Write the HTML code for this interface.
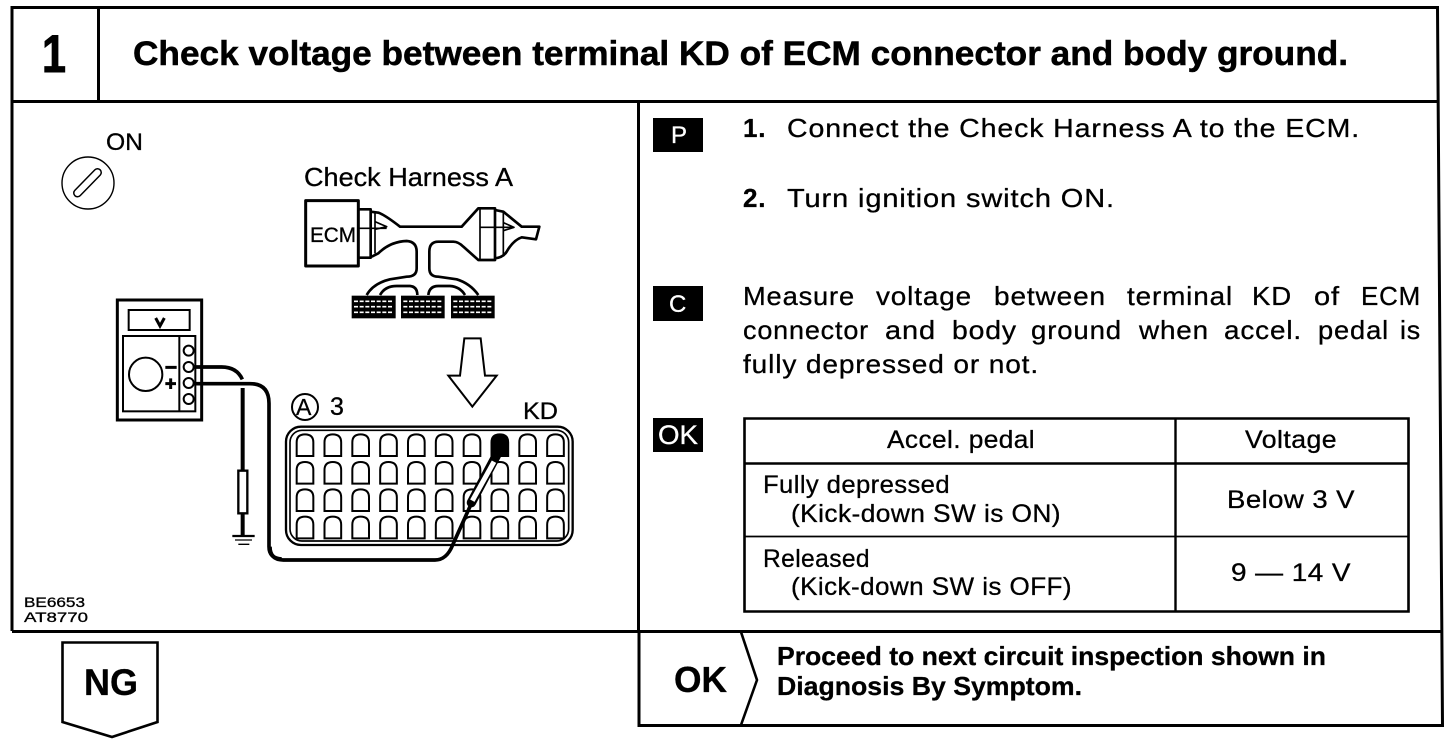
<!DOCTYPE html>
<html><head><meta charset="utf-8"><style>
html,body{margin:0;padding:0;background:#fff}
svg{display:block}
text{font-family:"Liberation Sans",sans-serif;fill:#000;stroke:#000;stroke-width:.3px}
.b{font-size:26px;letter-spacing:.8px}
.t{font-size:25px;letter-spacing:.4px}
.bb{font-weight:bold}
.w{fill:#fff;stroke:#fff}
</style></head><body>
<svg width="1456" height="744" viewBox="0 0 1456 744" xmlns="http://www.w3.org/2000/svg" xmlns:xlink="http://www.w3.org/1999/xlink">
<defs>
<path id="c" d="M0 65V24Q0 0 25 0T50 24V65Z" fill="#fff" stroke="#000" stroke-width="6"/>
<g id="r"><use xlink:href="#c" x="0"/><use xlink:href="#c" x="83.5"/><use xlink:href="#c" x="167"/><use xlink:href="#c" x="250.5"/><use xlink:href="#c" x="334"/><use xlink:href="#c" x="417.5"/><use xlink:href="#c" x="501"/><use xlink:href="#c" x="584.5"/><use xlink:href="#c" x="668"/><use xlink:href="#c" x="751.5"/></g>
</defs>
<rect width="1456" height="744" fill="#fff"/>
<!-- frame -->
<g fill="none" stroke="#000" stroke-width="3">
<path d="M12 631V7.5H1437.5L1442.5 725.5H639V631"/>
<path d="M12 101.5H1438M98.5 7V101M638.5 101V631M12 631.5H1441.5"/>
<path d="M744.5 418.5H1408.5V611.5H744.5Z" stroke-width="2.6"/>
<path d="M745 463.5H1408M1175.5 418V611" stroke-width="2.4"/>
<path d="M745 536.5H1408" stroke-width="1.8"/>
<path d="M741 632L757 680L741 725" stroke-linejoin="round" stroke-width="2.6"/>
<path d="M62.5 642.5H157.5V722L112 737L62.5 722Z" stroke-width="2.6"/>
</g>
<text x="42" y="72" font-size="53" class="bb" textLength="24" lengthAdjust="spacingAndGlyphs" style="stroke-width:1px">1</text>
<text x="133" y="65" font-size="34" class="bb" textLength="1215" lengthAdjust="spacingAndGlyphs" style="stroke-width:.5px">Check voltage between terminal KD of ECM connector and body ground.</text>

<!-- right side -->
<rect x="653" y="118" width="50" height="34"/><rect x="653" y="286" width="50" height="35"/><rect x="653" y="418" width="50" height="34"/>
<text x="671" y="143" font-size="24" class="w">P</text>
<text x="669" y="312" font-size="24" class="w">C</text>
<text x="658" y="444" font-size="27" class="w" textLength="40" lengthAdjust="spacingAndGlyphs">OK</text>

<text class="b" x="743" y="137" font-weight="bold">1.</text>
<text class="b" x="787" y="137" textLength="573" lengthAdjust="spacingAndGlyphs">Connect the Check Harness A to the ECM.</text>
<text class="b" x="743" y="207" font-weight="bold">2.</text>
<text class="b" x="787" y="207" textLength="328" lengthAdjust="spacingAndGlyphs">Turn ignition switch ON.</text>

<text class="b" y="305" x="743" textLength="112" lengthAdjust="spacingAndGlyphs">Measure</text>
<text class="b" y="305" x="876" textLength="96" lengthAdjust="spacingAndGlyphs">voltage</text>
<text class="b" y="305" x="994" textLength="112" lengthAdjust="spacingAndGlyphs">between</text>
<text class="b" y="305" x="1127" textLength="106" lengthAdjust="spacingAndGlyphs">terminal</text>
<text class="b" y="305" x="1252" textLength="40" lengthAdjust="spacingAndGlyphs">KD</text>
<text class="b" y="305" x="1314" textLength="26" lengthAdjust="spacingAndGlyphs">of</text>
<text class="b" y="305" x="1361" textLength="60" lengthAdjust="spacingAndGlyphs">ECM</text>

<text class="b" y="339" x="743" textLength="126" lengthAdjust="spacingAndGlyphs">connector</text>
<text class="b" y="339" x="885" textLength="51" lengthAdjust="spacingAndGlyphs">and</text>
<text class="b" y="339" x="952" textLength="65" lengthAdjust="spacingAndGlyphs">body</text>
<text class="b" y="339" x="1031" textLength="91" lengthAdjust="spacingAndGlyphs">ground</text>
<text class="b" y="339" x="1139" textLength="70" lengthAdjust="spacingAndGlyphs">when</text>
<text class="b" y="339" x="1224" textLength="78" lengthAdjust="spacingAndGlyphs">accel.</text>
<text class="b" y="339" x="1318" textLength="71" lengthAdjust="spacingAndGlyphs">pedal</text>
<text class="b" y="339" x="1400" textLength="21" lengthAdjust="spacingAndGlyphs">is</text>

<text class="b" x="743" y="373" textLength="296" lengthAdjust="spacingAndGlyphs">fully depressed or not.</text>

<text class="t" x="887" y="448" textLength="148" lengthAdjust="spacingAndGlyphs">Accel. pedal</text>
<text class="t" x="1245" y="448" textLength="92" lengthAdjust="spacingAndGlyphs">Voltage</text>
<text class="t" x="763" y="493" textLength="187" lengthAdjust="spacingAndGlyphs">Fully depressed</text>
<text class="t" x="791" y="522" textLength="270" lengthAdjust="spacingAndGlyphs">(Kick-down SW is ON)</text>
<text class="t" x="763" y="567" textLength="107" lengthAdjust="spacingAndGlyphs">Released</text>
<text class="t" x="791" y="595" textLength="281" lengthAdjust="spacingAndGlyphs">(Kick-down SW is OFF)</text>
<text class="t" x="1227" y="508" textLength="128" lengthAdjust="spacingAndGlyphs">Below 3 V</text>
<text class="t" x="1231" y="581" textLength="120" lengthAdjust="spacingAndGlyphs">9 — 14 V</text>

<text x="674" y="692" font-size="36" class="bb" textLength="53" lengthAdjust="spacingAndGlyphs">OK</text>
<text x="777" y="665" font-size="26" class="bb" textLength="549" lengthAdjust="spacingAndGlyphs">Proceed to next circuit inspection shown in</text>
<text x="777" y="695" font-size="26" class="bb" textLength="305" lengthAdjust="spacingAndGlyphs">Diagnosis By Symptom.</text>
<text x="84" y="695" font-size="37" class="bb" textLength="54" lengthAdjust="spacingAndGlyphs">NG</text>

<!-- left labels -->
<text x="24" y="607" font-size="14" textLength="61" lengthAdjust="spacingAndGlyphs">BE6653</text>
<text x="24" y="622" font-size="14" textLength="64" lengthAdjust="spacingAndGlyphs">AT8770</text>
<text x="106" y="150" font-size="24" textLength="37" lengthAdjust="spacingAndGlyphs">ON</text>
<text x="304" y="186" font-size="26" textLength="209" lengthAdjust="spacingAndGlyphs">Check Harness A</text>
<text x="310" y="242" font-size="21" textLength="46" lengthAdjust="spacingAndGlyphs">ECM</text>
<text x="523" y="419" font-size="24" textLength="35" lengthAdjust="spacingAndGlyphs">KD</text>
<text x="330" y="415" font-size="25">3</text>
<circle cx="305" cy="407" r="13" fill="none" stroke="#000" stroke-width="2"/>
<text x="296" y="415" font-size="23">A</text>

<!-- ignition -->
<circle cx="88" cy="183" r="26" fill="none" stroke="#000" stroke-width="1.4"/>
<path d="M77.5 193L97.5 172.5" stroke="#000" stroke-width="9" stroke-linecap="round"/>
<path d="M77.5 193L97.5 172.5" stroke="#fff" stroke-width="6" stroke-linecap="round"/>

<!-- harness -->
<g transform="translate(290 160) scale(.33333)" fill="none" stroke="#000" stroke-width="8" stroke-linejoin="round">
<rect x="47" y="122" width="158" height="196" stroke-width="9"/>
<path d="M205 148H242V293H205"/>
<path d="M242 155L265 158Q285 165 330 200H515L565 145H615V300H565L520 260Q505 245 490 245H445Q418 245 418 275V325Q418 350 445 350L500 358Q540 370 565 405"/>
<path d="M245 290L265 280Q300 245 350 243Q380 245 380 275V325Q380 350 350 350L300 358Q250 370 230 405"/>
<path d="M270 405Q285 378 320 378H360Q382 380 382 405M415 405Q418 378 445 378H480Q510 380 525 405"/>
<path d="M615 150L640 155L695 200H748L738 238L695 232Q670 240 650 275Q640 292 615 295"/>
<path d="M255 155V280M640 155V290M570 148V300" stroke-width="5"/>
<path d="M205 205H290M570 202H672" stroke-width="5"/>
<path d="M255 185L290 200L255 208M640 188L672 202L640 212" stroke-width="5"/>
<g fill="#000" stroke="none"><rect x="185" y="407" width="132" height="68"/><rect x="333" y="407" width="131" height="68"/><rect x="483" y="407" width="131" height="68"/></g>
<path d="M192 424H310M192 440H310M192 457H310M340 424H456M340 440H456M340 457H456M490 424H606M490 440H606M490 457H606" stroke="#fff" stroke-width="5" stroke-dasharray="12 5"/>
</g>

<!-- arrow + connector -->
<g transform="translate(270 330) scale(.33333)">
<path d="M583 25H632L645 137H680L607 230L535 137H570Z" fill="#fff" stroke="#000" stroke-width="6" stroke-linejoin="miter"/>
<rect x="48" y="290" width="860" height="355" rx="45" fill="#fff" stroke="#000" stroke-width="7"/>
<rect x="60" y="301" width="836" height="332" rx="36" fill="none" stroke="#000" stroke-width="5"/>
<use xlink:href="#r" x="80" y="313"/><use xlink:href="#r" x="80" y="396"/><use xlink:href="#r" x="80" y="478"/><use xlink:href="#r" x="80" y="560"/>
<path d="M663 375V335Q663 313 688 313T713 335V375Z" fill="#000"/>
<path d="M680 375L604 518" stroke="#000" stroke-width="28" stroke-linecap="round"/>
<path d="M672 395L607 512" stroke="#fff" stroke-width="15"/>
<path d="M602 525L548 645Q530 690 495 690H40Q0 690 0 650" fill="none" stroke="#000" stroke-width="11"/>
</g>

<!-- meter -->
<g transform="translate(90 290) scale(.33333)" fill="none" stroke="#000">
<rect x="82" y="30" width="253" height="360" stroke-width="9"/>
<rect x="116" y="60" width="183" height="60" stroke-width="6"/>
<rect x="99" y="138" width="217" height="226" stroke-width="6"/>
<path d="M268 138V364" stroke-width="6"/>
<circle cx="167" cy="253" r="50" stroke-width="6"/>
<path d="M226 232H260M226 281H258M242 265V297" stroke-width="9"/>
<path d="M197 84L210 108L223 84" stroke-width="9"/>
<path d="M310 231H395Q440 231 457 268" stroke-width="11"/>
<path d="M310 281H480Q537 281 537 340V770Q537 805 575 807" stroke-width="11"/>
<path d="M458 294V540M458 670V735" stroke-width="12"/>
<rect x="445" y="542" width="27" height="128" fill="#fff" stroke-width="7"/>
<path d="M427 738H494" stroke-width="7"/><path d="M435 750H486M445 763H478" stroke-width="4"/>
<g fill="#fff" stroke-width="6"><circle cx="296" cy="182" r="15"/><circle cx="296" cy="231" r="15"/><circle cx="296" cy="279" r="15"/><circle cx="296" cy="327" r="15"/></g>
</g>
</svg>
</body></html>
